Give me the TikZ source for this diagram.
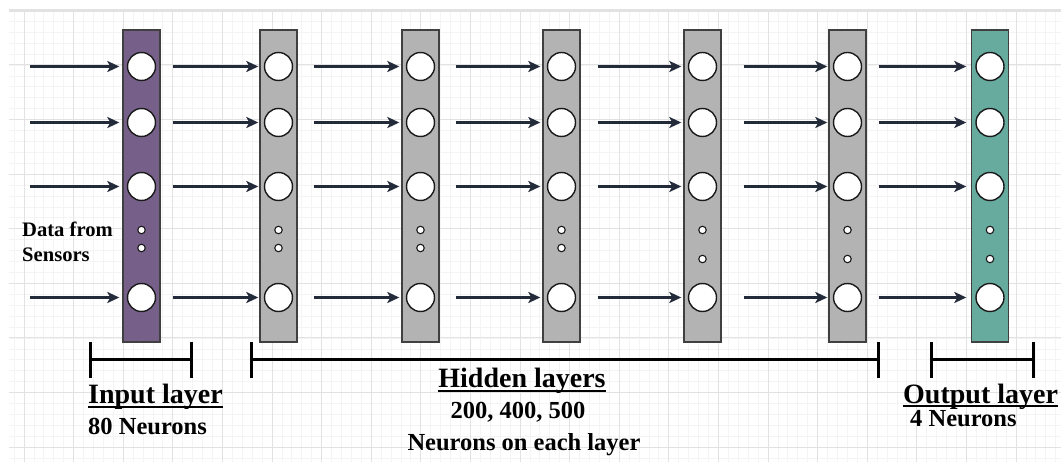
\documentclass[tikz,border=0pt]{standalone}
\usepackage{fontspec}
\setmainfont{Liberation Serif}
\usetikzlibrary{arrows.meta,calc}
\definecolor{purp}{HTML}{76608A}
\definecolor{hid}{HTML}{B3B3B3}
\definecolor{tealc}{HTML}{67AB9F}
\definecolor{arrc}{HTML}{232B3B}
\definecolor{gmin}{HTML}{F4F4F4}
\definecolor{gmaj}{HTML}{E2E2E2}
\begin{document}
\begin{tikzpicture}[x=1pt,y=-1pt,
 bar/.style={draw=black!75, line width=1.4pt, minimum width=37pt, minimum height=312pt, inner sep=0pt},
 neuron/.style={circle, draw=black!90, line width=1.4pt, fill=white, minimum size=28pt, inner sep=0pt},
 dotn/.style={circle, draw=black!90, line width=1.1pt, fill=white, minimum size=7.5pt, inner sep=0pt},
 arr/.style={draw=arrc, line width=2.2pt, -{Stealth[length=12pt,width=11pt,inset=3pt]}},
 brk/.style={line width=3pt, black},
 ul/.style={line width=1.5pt, black},
 head/.style={font=\fontsize{28}{32}\selectfont\bfseries, inner sep=0pt},
 sub/.style={font=\fontsize{24.5}{28}\selectfont\bfseries, inner sep=0pt},
 small/.style={font=\fontsize{20.6}{25}\selectfont\bfseries, inner sep=0pt}]
\useasboundingbox (0,0) rectangle (1061,462);
\fill[white] (0,0) rectangle (1061,462);
\fill[gmaj] (9,9) rectangle (1061,12);
% grid
\begin{scope}
\clip (9,12) rectangle (1061,462);
\foreach \i in {0,...,105} { \draw[gmin, line width=0.8pt] ({14.08+9.92*\i},12) -- ({14.08+9.92*\i},462); }
\foreach \i in {0,...,40} { \draw[gmin, line width=0.8pt] (9,{21.32+10.92*\i}) -- (1061,{21.32+10.92*\i}); }
\foreach \i in {0,...,20} { \draw[gmaj, line width=1pt] ({24+49.6*\i},12) -- ({24+49.6*\i},462); }
\foreach \i in {0,...,7} { \draw[gmaj, line width=1pt] (9,{65+54.6*\i}) -- (1061,{65+54.6*\i}); }
\end{scope}
% layers
\foreach \b/\cx/\col/\dy in {1/141.5/purp/248, 2/278.5/hid/248, 3/420.5/hid/248, 4/561.5/hid/248, 5/702.5/hid/259, 6/847.5/hid/259, 7/990/tealc/259} {
  \node[bar, fill=\col] (bar\b) at (\cx,186) {};
  \foreach \r/\ry in {1/66.5,2/122.5,3/186.5,4/297.5} { \node[neuron] (n\b\r) at (\cx,\ry) {}; }
  \node[dotn] (d\b a) at (\cx,230) {};
  \node[dotn] (d\b b) at (\cx,\dy) {};
}
% input arrows
\foreach \r/\ry in {1/66.5,2/122.5,3/186.5,4/297.5} {
  \coordinate (in\r) at (30,\ry);
  \draw[arr] (in\r) -- ([xshift=-7.5pt]n1\r.west);
}
% layer-to-layer arrows
\foreach \p/\n/\so/\eo in {1/2/16.5/-5.5, 2/3/20.5/-6.5, 3/4/20.5/-6.5, 4/5/21.5/-6.5, 5/6/26.5/-5.5, 6/7/16.5/-9} {
  \foreach \r in {1,2,3,4} {
    \draw[arr] ([xshift=\so pt]n\p\r.east) -- ([xshift=\eo pt]n\n\r.west);
  }
}
% brackets
\coordinate (ia) at (90,360); \coordinate (ib) at (191,360);
\coordinate (ha) at (251,360); \coordinate (hb) at (878,360);
\coordinate (oa) at (931,360); \coordinate (ob) at (1033,360);
\foreach \a/\c in {ia/ib, ha/hb, oa/ob} {
  \draw[brk] (\a) -- (\c);
  \draw[brk] ([yshift=18pt]\a) -- ([yshift=-18pt]\a);
  \draw[brk] ([yshift=18pt]\c) -- ([yshift=-18pt]\c);
}
% labels
\node[small, anchor=base west] (dfa) at (22,237) {Data from};
\node[small, anchor=base west] (dfb) at (22,262) {Sensors};

\node[head, anchor=base west] (ilt) at (88,404) {Input layer};
\draw[ul] ($(ilt.base west)+(0,3)$) -- ($(ilt.base east)+(0,3)$);
\node[sub, anchor=base west] (iln) at (88,435) {80 Neurons};

\node[head, anchor=base] (hlt) at (522,388) {Hidden layers};
\draw[ul] ($(hlt.base west)+(0,3)$) -- ($(hlt.base east)+(0,3)$);
\node[sub, anchor=base] (hln) at (518,419) {200, 400, 500};
\node[sub, anchor=base] (hle) at (524,450) {Neurons on each layer};

\node[head, anchor=base west] (olt) at (903,403) {Output layer};
\draw[ul] ($(olt.base west)+(0,3)$) -- ($(olt.base east)+(0,3)$);
\node[sub, anchor=base west] (oln) at (910,427) {4 Neurons};
\end{tikzpicture}
\end{document}
